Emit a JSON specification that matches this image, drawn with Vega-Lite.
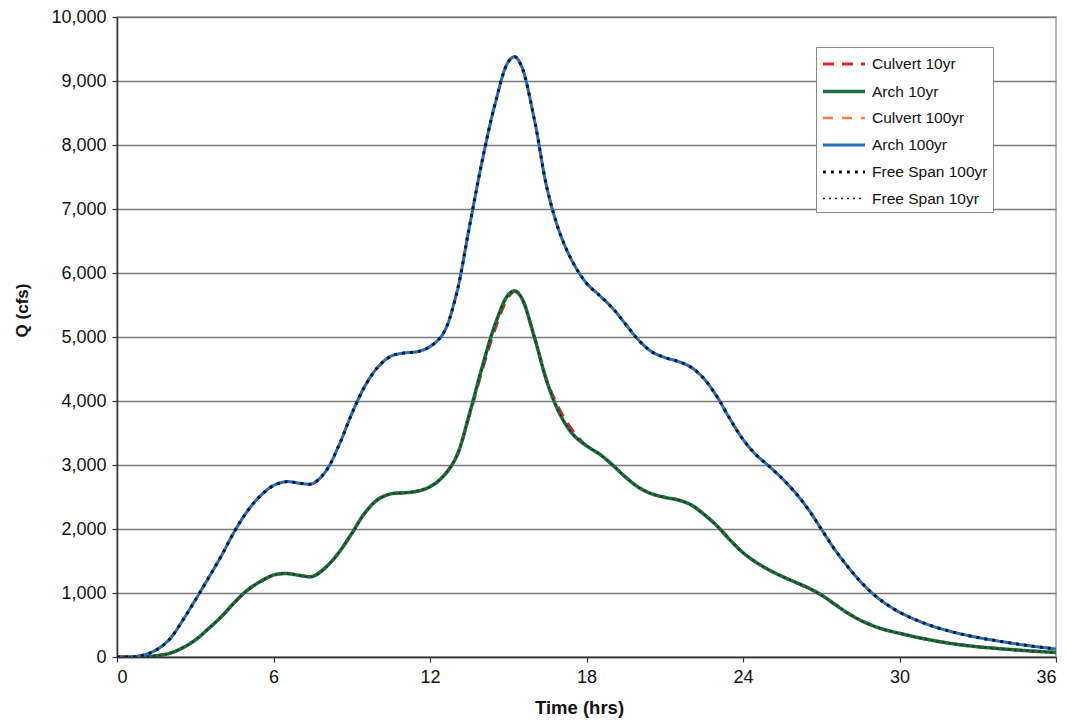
{
  "$schema": "https://vega.github.io/schema/vega-lite/v6.json",
  "width": 939,
  "height": 640,
  "autosize": "none",
  "padding": {"left": 117, "top": 17, "right": 14, "bottom": 70},
  "background": "white",
  "config": {
    "font": "Liberation Sans",
    "view": {"stroke": "#a0a0a0", "strokeWidth": 1.5}
  },
  "data": {
    "values": [
      {"t": 0, "Culvert 10yr": 0, "Arch 10yr": 0, "Culvert 100yr": 0, "Arch 100yr": 0, "Free Span 100yr": 0, "Free Span 10yr": 0},
      {"t": 0.5, "Culvert 10yr": 0, "Arch 10yr": 0, "Culvert 100yr": 0, "Arch 100yr": 0, "Free Span 100yr": 0, "Free Span 10yr": 0},
      {"t": 1, "Culvert 10yr": 5, "Arch 10yr": 5, "Culvert 100yr": 30, "Arch 100yr": 30, "Free Span 100yr": 30, "Free Span 10yr": 5},
      {"t": 1.5, "Culvert 10yr": 20, "Arch 10yr": 20, "Culvert 100yr": 110, "Arch 100yr": 110, "Free Span 100yr": 110, "Free Span 10yr": 20},
      {"t": 2, "Culvert 10yr": 55, "Arch 10yr": 55, "Culvert 100yr": 270, "Arch 100yr": 270, "Free Span 100yr": 270, "Free Span 10yr": 55},
      {"t": 2.5, "Culvert 10yr": 140, "Arch 10yr": 140, "Culvert 100yr": 560, "Arch 100yr": 560, "Free Span 100yr": 560, "Free Span 10yr": 140},
      {"t": 3, "Culvert 10yr": 265, "Arch 10yr": 265, "Culvert 100yr": 890, "Arch 100yr": 890, "Free Span 100yr": 890, "Free Span 10yr": 265},
      {"t": 3.5, "Culvert 10yr": 440, "Arch 10yr": 440, "Culvert 100yr": 1230, "Arch 100yr": 1230, "Free Span 100yr": 1230, "Free Span 10yr": 440},
      {"t": 4, "Culvert 10yr": 630, "Arch 10yr": 630, "Culvert 100yr": 1580, "Arch 100yr": 1580, "Free Span 100yr": 1580, "Free Span 10yr": 630},
      {"t": 4.5, "Culvert 10yr": 850, "Arch 10yr": 850, "Culvert 100yr": 1960, "Arch 100yr": 1960, "Free Span 100yr": 1960, "Free Span 10yr": 850},
      {"t": 5, "Culvert 10yr": 1045, "Arch 10yr": 1045, "Culvert 100yr": 2280, "Arch 100yr": 2280, "Free Span 100yr": 2280, "Free Span 10yr": 1045},
      {"t": 5.5, "Culvert 10yr": 1180, "Arch 10yr": 1180, "Culvert 100yr": 2520, "Arch 100yr": 2520, "Free Span 100yr": 2520, "Free Span 10yr": 1180},
      {"t": 6, "Culvert 10yr": 1280, "Arch 10yr": 1280, "Culvert 100yr": 2680, "Arch 100yr": 2680, "Free Span 100yr": 2680, "Free Span 10yr": 1280},
      {"t": 6.5, "Culvert 10yr": 1305, "Arch 10yr": 1305, "Culvert 100yr": 2740, "Arch 100yr": 2740, "Free Span 100yr": 2740, "Free Span 10yr": 1305},
      {"t": 7, "Culvert 10yr": 1275, "Arch 10yr": 1275, "Culvert 100yr": 2715, "Arch 100yr": 2715, "Free Span 100yr": 2715, "Free Span 10yr": 1275},
      {"t": 7.5, "Culvert 10yr": 1260, "Arch 10yr": 1260, "Culvert 100yr": 2710, "Arch 100yr": 2710, "Free Span 100yr": 2710, "Free Span 10yr": 1260},
      {"t": 8, "Culvert 10yr": 1400, "Arch 10yr": 1400, "Culvert 100yr": 2900, "Arch 100yr": 2900, "Free Span 100yr": 2900, "Free Span 10yr": 1400},
      {"t": 8.5, "Culvert 10yr": 1630, "Arch 10yr": 1630, "Culvert 100yr": 3300, "Arch 100yr": 3300, "Free Span 100yr": 3300, "Free Span 10yr": 1630},
      {"t": 9, "Culvert 10yr": 1930, "Arch 10yr": 1930, "Culvert 100yr": 3800, "Arch 100yr": 3800, "Free Span 100yr": 3800, "Free Span 10yr": 1930},
      {"t": 9.5, "Culvert 10yr": 2250, "Arch 10yr": 2250, "Culvert 100yr": 4230, "Arch 100yr": 4230, "Free Span 100yr": 4230, "Free Span 10yr": 2250},
      {"t": 10, "Culvert 10yr": 2460, "Arch 10yr": 2460, "Culvert 100yr": 4530, "Arch 100yr": 4530, "Free Span 100yr": 4530, "Free Span 10yr": 2460},
      {"t": 10.5, "Culvert 10yr": 2550, "Arch 10yr": 2550, "Culvert 100yr": 4700, "Arch 100yr": 4700, "Free Span 100yr": 4700, "Free Span 10yr": 2550},
      {"t": 11, "Culvert 10yr": 2565, "Arch 10yr": 2565, "Culvert 100yr": 4750, "Arch 100yr": 4750, "Free Span 100yr": 4750, "Free Span 10yr": 2565},
      {"t": 11.5, "Culvert 10yr": 2590, "Arch 10yr": 2590, "Culvert 100yr": 4770, "Arch 100yr": 4770, "Free Span 100yr": 4770, "Free Span 10yr": 2590},
      {"t": 12, "Culvert 10yr": 2660, "Arch 10yr": 2660, "Culvert 100yr": 4850, "Arch 100yr": 4850, "Free Span 100yr": 4850, "Free Span 10yr": 2660},
      {"t": 12.5, "Culvert 10yr": 2820, "Arch 10yr": 2820, "Culvert 100yr": 5050, "Arch 100yr": 5050, "Free Span 100yr": 5050, "Free Span 10yr": 2820},
      {"t": 13, "Culvert 10yr": 3120, "Arch 10yr": 3120, "Culvert 100yr": 5650, "Arch 100yr": 5650, "Free Span 100yr": 5650, "Free Span 10yr": 3120},
      {"t": 13.5, "Culvert 10yr": 3760, "Arch 10yr": 3780, "Culvert 100yr": 6700, "Arch 100yr": 6700, "Free Span 100yr": 6700, "Free Span 10yr": 3780},
      {"t": 14, "Culvert 10yr": 4480, "Arch 10yr": 4530, "Culvert 100yr": 7750, "Arch 100yr": 7750, "Free Span 100yr": 7750, "Free Span 10yr": 4530},
      {"t": 14.5, "Culvert 10yr": 5130, "Arch 10yr": 5200, "Culvert 100yr": 8650, "Arch 100yr": 8650, "Free Span 100yr": 8650, "Free Span 10yr": 5200},
      {"t": 15, "Culvert 10yr": 5620, "Arch 10yr": 5660, "Culvert 100yr": 9300, "Arch 100yr": 9300, "Free Span 100yr": 9300, "Free Span 10yr": 5660},
      {"t": 15.25, "Culvert 10yr": 5710, "Arch 10yr": 5720, "Culvert 100yr": 9380, "Arch 100yr": 9380, "Free Span 100yr": 9380, "Free Span 10yr": 5720},
      {"t": 15.5, "Culvert 10yr": 5620, "Arch 10yr": 5620, "Culvert 100yr": 9240, "Arch 100yr": 9240, "Free Span 100yr": 9240, "Free Span 10yr": 5620},
      {"t": 16, "Culvert 10yr": 5000, "Arch 10yr": 5000, "Culvert 100yr": 8400, "Arch 100yr": 8400, "Free Span 100yr": 8400, "Free Span 10yr": 5000},
      {"t": 16.5, "Culvert 10yr": 4300, "Arch 10yr": 4280, "Culvert 100yr": 7300, "Arch 100yr": 7300, "Free Span 100yr": 7300, "Free Span 10yr": 4280},
      {"t": 17, "Culvert 10yr": 3840, "Arch 10yr": 3780, "Culvert 100yr": 6600, "Arch 100yr": 6600, "Free Span 100yr": 6600, "Free Span 10yr": 3780},
      {"t": 17.5, "Culvert 10yr": 3520, "Arch 10yr": 3470, "Culvert 100yr": 6150, "Arch 100yr": 6150, "Free Span 100yr": 6150, "Free Span 10yr": 3470},
      {"t": 18, "Culvert 10yr": 3300, "Arch 10yr": 3300, "Culvert 100yr": 5840, "Arch 100yr": 5840, "Free Span 100yr": 5840, "Free Span 10yr": 3300},
      {"t": 18.5, "Culvert 10yr": 3170, "Arch 10yr": 3170, "Culvert 100yr": 5650, "Arch 100yr": 5650, "Free Span 100yr": 5650, "Free Span 10yr": 3170},
      {"t": 19, "Culvert 10yr": 3000, "Arch 10yr": 3000, "Culvert 100yr": 5450, "Arch 100yr": 5450, "Free Span 100yr": 5450, "Free Span 10yr": 3000},
      {"t": 19.5, "Culvert 10yr": 2810, "Arch 10yr": 2810, "Culvert 100yr": 5200, "Arch 100yr": 5200, "Free Span 100yr": 5200, "Free Span 10yr": 2810},
      {"t": 20, "Culvert 10yr": 2650, "Arch 10yr": 2650, "Culvert 100yr": 4950, "Arch 100yr": 4950, "Free Span 100yr": 4950, "Free Span 10yr": 2650},
      {"t": 20.5, "Culvert 10yr": 2550, "Arch 10yr": 2550, "Culvert 100yr": 4770, "Arch 100yr": 4770, "Free Span 100yr": 4770, "Free Span 10yr": 2550},
      {"t": 21, "Culvert 10yr": 2495, "Arch 10yr": 2495, "Culvert 100yr": 4680, "Arch 100yr": 4680, "Free Span 100yr": 4680, "Free Span 10yr": 2495},
      {"t": 21.5, "Culvert 10yr": 2455, "Arch 10yr": 2455, "Culvert 100yr": 4620, "Arch 100yr": 4620, "Free Span 100yr": 4620, "Free Span 10yr": 2455},
      {"t": 22, "Culvert 10yr": 2380, "Arch 10yr": 2380, "Culvert 100yr": 4530, "Arch 100yr": 4530, "Free Span 100yr": 4530, "Free Span 10yr": 2380},
      {"t": 22.5, "Culvert 10yr": 2230, "Arch 10yr": 2230, "Culvert 100yr": 4350, "Arch 100yr": 4350, "Free Span 100yr": 4350, "Free Span 10yr": 2230},
      {"t": 23, "Culvert 10yr": 2050, "Arch 10yr": 2050, "Culvert 100yr": 4070, "Arch 100yr": 4070, "Free Span 100yr": 4070, "Free Span 10yr": 2050},
      {"t": 23.5, "Culvert 10yr": 1830, "Arch 10yr": 1830, "Culvert 100yr": 3720, "Arch 100yr": 3720, "Free Span 100yr": 3720, "Free Span 10yr": 1830},
      {"t": 24, "Culvert 10yr": 1630, "Arch 10yr": 1630, "Culvert 100yr": 3400, "Arch 100yr": 3400, "Free Span 100yr": 3400, "Free Span 10yr": 1630},
      {"t": 24.5, "Culvert 10yr": 1480, "Arch 10yr": 1480, "Culvert 100yr": 3160, "Arch 100yr": 3160, "Free Span 100yr": 3160, "Free Span 10yr": 1480},
      {"t": 25, "Culvert 10yr": 1360, "Arch 10yr": 1360, "Culvert 100yr": 2980, "Arch 100yr": 2980, "Free Span 100yr": 2980, "Free Span 10yr": 1360},
      {"t": 25.5, "Culvert 10yr": 1260, "Arch 10yr": 1260, "Culvert 100yr": 2790, "Arch 100yr": 2790, "Free Span 100yr": 2790, "Free Span 10yr": 1260},
      {"t": 26, "Culvert 10yr": 1170, "Arch 10yr": 1170, "Culvert 100yr": 2570, "Arch 100yr": 2570, "Free Span 100yr": 2570, "Free Span 10yr": 1170},
      {"t": 26.5, "Culvert 10yr": 1080, "Arch 10yr": 1080, "Culvert 100yr": 2310, "Arch 100yr": 2310, "Free Span 100yr": 2310, "Free Span 10yr": 1080},
      {"t": 27, "Culvert 10yr": 970, "Arch 10yr": 970, "Culvert 100yr": 2000, "Arch 100yr": 2000, "Free Span 100yr": 2000, "Free Span 10yr": 970},
      {"t": 27.5, "Culvert 10yr": 830, "Arch 10yr": 830, "Culvert 100yr": 1690, "Arch 100yr": 1690, "Free Span 100yr": 1690, "Free Span 10yr": 830},
      {"t": 28, "Culvert 10yr": 690, "Arch 10yr": 690, "Culvert 100yr": 1420, "Arch 100yr": 1420, "Free Span 100yr": 1420, "Free Span 10yr": 690},
      {"t": 28.5, "Culvert 10yr": 575, "Arch 10yr": 575, "Culvert 100yr": 1180, "Arch 100yr": 1180, "Free Span 100yr": 1180, "Free Span 10yr": 575},
      {"t": 29, "Culvert 10yr": 485, "Arch 10yr": 485, "Culvert 100yr": 980, "Arch 100yr": 980, "Free Span 100yr": 980, "Free Span 10yr": 485},
      {"t": 29.5, "Culvert 10yr": 420, "Arch 10yr": 420, "Culvert 100yr": 825, "Arch 100yr": 825, "Free Span 100yr": 825, "Free Span 10yr": 420},
      {"t": 30, "Culvert 10yr": 370, "Arch 10yr": 370, "Culvert 100yr": 700, "Arch 100yr": 700, "Free Span 100yr": 700, "Free Span 10yr": 370},
      {"t": 31, "Culvert 10yr": 280, "Arch 10yr": 280, "Culvert 100yr": 520, "Arch 100yr": 520, "Free Span 100yr": 520, "Free Span 10yr": 280},
      {"t": 32, "Culvert 10yr": 210, "Arch 10yr": 210, "Culvert 100yr": 395, "Arch 100yr": 395, "Free Span 100yr": 395, "Free Span 10yr": 210},
      {"t": 33, "Culvert 10yr": 160, "Arch 10yr": 160, "Culvert 100yr": 305, "Arch 100yr": 305, "Free Span 100yr": 305, "Free Span 10yr": 160},
      {"t": 34, "Culvert 10yr": 125, "Arch 10yr": 125, "Culvert 100yr": 235, "Arch 100yr": 235, "Free Span 100yr": 235, "Free Span 10yr": 125},
      {"t": 35, "Culvert 10yr": 95, "Arch 10yr": 95, "Culvert 100yr": 175, "Arch 100yr": 175, "Free Span 100yr": 175, "Free Span 10yr": 95},
      {"t": 36, "Culvert 10yr": 70, "Arch 10yr": 70, "Culvert 100yr": 125, "Arch 100yr": 125, "Free Span 100yr": 125, "Free Span 10yr": 70}
    ]
  },
  "transform": [
    {"fold": ["Culvert 10yr", "Arch 10yr", "Culvert 100yr", "Arch 100yr", "Free Span 100yr", "Free Span 10yr"], "as": ["series", "q"]}
  ],
  "mark": {"type": "line", "interpolate": "catmull-rom", "clip": true},
  "encoding": {
    "x": {
      "field": "t", "type": "quantitative",
      "scale": {"domain": [0, 36], "nice": false, "zero": false},
      "axis": {
        "title": "Time (hrs)", "values": [0, 6, 12, 18, 24, 30, 36], "grid": false,
        "labelFontSize": 18, "labelColor": "#111", "labelPadding": 6,
        "titleFontSize": 18.5, "titleFontWeight": "bold", "titleColor": "#111", "titlePadding": 12, "titleX": 462,
        "domainColor": "#333", "domainWidth": 1.5, "tickColor": "#333", "tickSize": 5, "tickWidth": 1.2
      }
    },
    "y": {
      "field": "q", "type": "quantitative",
      "scale": {"domain": [0, 10000], "nice": false},
      "axis": {
        "title": "Q (cfs)", "values": [0, 1000, 2000, 3000, 4000, 5000, 6000, 7000, 8000, 9000, 10000], "format": ",.0f",
        "grid": true, "gridColor": "#7a7a7a", "gridWidth": 1.5,
        "labelFontSize": 18, "labelColor": "#111", "labelPadding": 6,
        "titleFontSize": 17, "titleFontWeight": "bold", "titleColor": "#111", "titleX": -86, "titleY": 293,
        "domainColor": "#333", "domainWidth": 1.5, "tickColor": "#333", "tickSize": 5, "tickWidth": 1.2
      }
    },
    "color": {
      "field": "series", "type": "nominal",
      "scale": {
        "domain": ["Culvert 10yr", "Arch 10yr", "Culvert 100yr", "Arch 100yr", "Free Span 100yr", "Free Span 10yr"],
        "range": ["#e3202a", "#1b6e3c", "#f47b3a", "#1f6fc8", "#161616", "#222222"]
      },
      "legend": {
        "title": null, "orient": "none", "legendX": 699, "legendY": 30,
        "symbolType": "M-1,0H3", "symbolSize": 441, "labelFontSize": 15.5, "labelColor": "#111",
        "labelOffset": 26, "rowPadding": 6, "padding": 5,
        "strokeColor": "#8a8a8a", "fillColor": "white", "labelLimit": 200
      }
    },
    "strokeDash": {
      "field": "series", "type": "nominal",
      "scale": {
        "domain": ["Culvert 10yr", "Arch 10yr", "Culvert 100yr", "Arch 100yr", "Free Span 100yr", "Free Span 10yr"],
        "range": [[11, 8], [1, 0], [10, 9], [1, 0], [3, 5], [2, 4]]
      }
    },
    "strokeWidth": {
      "field": "series", "type": "nominal",
      "scale": {
        "type": "ordinal",
        "domain": ["Culvert 10yr", "Arch 10yr", "Culvert 100yr", "Arch 100yr", "Free Span 100yr", "Free Span 10yr"],
        "range": [3, 3.5, 2.5, 3, 3, 1.5]
      }
    }
  }
}
